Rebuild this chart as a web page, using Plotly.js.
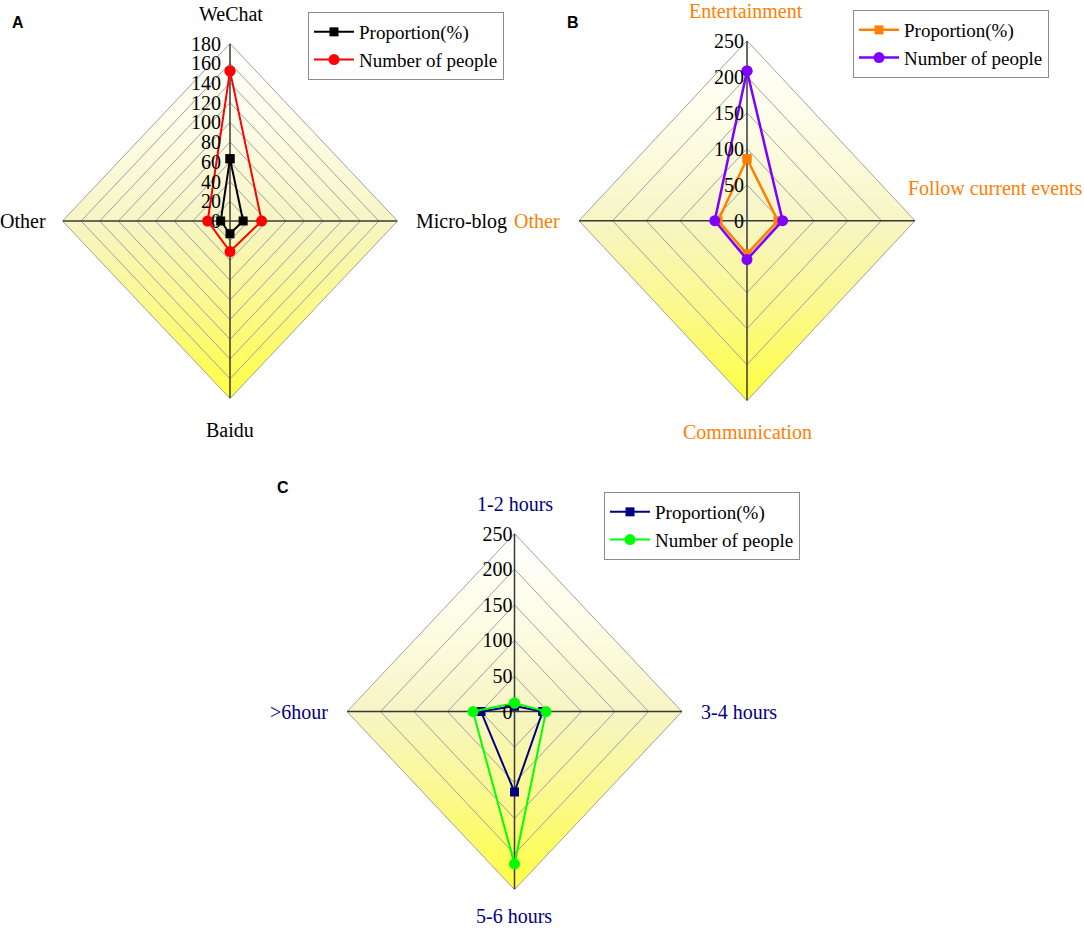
<!DOCTYPE html>
<html>
<head>
<meta charset="utf-8">
<script src="https://cdn.plot.ly/plotly-3.0.1.min.js"></script>
<style>html,body{margin:0;padding:0;background:#fff;}#chart{width:1084px;height:929px;}</style>
</head>
<body>
<div id="chart"></div>
<script>
// ---- data ----
const catsA = ['WeChat', 'Micro-blog', 'Baidu', 'Other'];
const propA = [63.1, 14.1, 12.9, 10.0];
const peopleA = [152, 34, 31, 24];
const ticksA = [0, 20, 40, 60, 80, 100, 120, 140, 160, 180];

const catsB = ['Entertainment', 'Follow current events', 'Communication', 'Other'];
const propB = [86, 46, 46, 43];
const peopleB = [208, 53, 54, 48];
const ticksB = [0, 50, 100, 150, 200, 250];

const catsC = ['1-2 hours', '3-4 hours', '5-6 hours', '>6hour'];
const propC = [8, 42, 113, 50];
const peopleC = [12, 47, 214, 62];
const ticksC = [0, 50, 100, 150, 200, 250];

const seriesNames = ['Proportion(%)', 'Number of people'];

// ---- helpers ----
const W = 1084, H = 929;
const px = x => x / W;
const py = y => 1 - y / H;
// clockwise from top
const ANG = [90, 0, -90, 180].map(a => a * Math.PI / 180);
function toXY(vals) {
  const x = [], y = [];
  vals.concat([vals[0]]).forEach((v, i) => {
    const a = ANG[i % 4];
    x.push(Math.round(v * Math.cos(a) * 1e6) / 1e6);
    y.push(Math.round(v * Math.sin(a) * 1e6) / 1e6);
  });
  return {x, y};
}

const serif = 'Liberation Serif, Times New Roman, serif';
const traces = [];
const annotations = [];
const layout = {
  width: W, height: H,
  margin: {l: 0, r: 0, t: 0, b: 0},
  paper_bgcolor: '#ffffff', plot_bgcolor: 'rgba(0,0,0,0)',
  showlegend: true,
  font: {family: serif, size: 20, color: '#000'},
  annotations: annotations
};

const panels = [
  {key: '', cats: catsA, s1: propA, s2: peopleA, ticks: ticksA, cx: 230, cy: 221, hx: 167.5, hy: 177.5,
   c1: '#000000', c2: '#ff0000', lab: '#000000', letter: 'A', lx: 18, ly: 22, standoff: 9,
   legend: 'legend', legPos: [308, 12], w: 2,
   labPos: [[231, 14, 'center'], [414, 221, 'left'], [230, 430, 'center'], [48, 221, 'right']]},
  {key: '2', cats: catsB, s1: propB, s2: peopleB, ticks: ticksB, cx: 747, cy: 220.7, hx: 168, hy: 180,
   c1: '#ff8000', c2: '#8000ff', lab: '#ff8000', letter: 'B', lx: 573, ly: 22, standoff: 3,
   legend: 'legend2', legPos: [853, 10], w: 2.5,
   labPos: [[746, 11, 'center'], [906, 188, 'left'], [747, 432, 'center'], [562, 221, 'right']]},
  {key: '3', cats: catsC, s1: propC, s2: peopleC, ticks: ticksC, cx: 514.5, cy: 711.6, hx: 167.5, hy: 178,
   c1: '#000080', c2: '#00ff00', lab: '#000080', letter: 'C', lx: 283, ly: 487, standoff: 2,
   legend: 'legend3', legPos: [604, 492], w: 2,
   labPos: [[515, 504, 'center'], [699, 712, 'left'], [514, 916, 'center'], [330, 712, 'right']]}
];

panels.forEach(p => {
  const R = p.ticks[p.ticks.length - 1];
  const xa = 'x' + p.key, ya = 'y' + p.key;
  layout['xaxis' + p.key] = {
    domain: [px(p.cx - p.hx), px(p.cx + p.hx)], range: [-R, R], visible: false, fixedrange: true
  };
  layout['yaxis' + p.key] = {
    domain: [py(p.cy + p.hy), py(p.cy - p.hy)], range: [-R, R],
    anchor: 'free', position: px(p.cx), side: 'left',
    showgrid: false, zeroline: false, showline: false, ticks: '',
    tickmode: 'array', tickvals: p.ticks, ticktext: p.ticks.map(String),
    tickfont: {family: serif, size: 20, color: '#000'}, ticklabelstandoff: p.standoff,
    fixedrange: true
  };
  // background diamond with vertical gradient
  const bg = toXY([R, R, R, R]);
  traces.push({
    type: 'scatter', mode: 'lines', x: bg.x, y: bg.y, xaxis: xa, yaxis: ya,
    fill: 'toself', line: {width: 0, color: 'rgba(0,0,0,0)'},
    fillgradient: {type: 'vertical', start: -R, stop: R,
      colorscale: [[0, '#ffff40'], [0.25, '#fbf98a'], [0.5, '#f7f5c4'], [0.75, '#fdfde6'], [1, '#ffffff']]},
    showlegend: false, hoverinfo: 'skip'
  });
  // grid rings
  const gx = [], gy = [];
  p.ticks.filter(t => t > 0).forEach(t => {
    const d = toXY([t, t, t, t]);
    gx.push(...d.x, null); gy.push(...d.y, null);
  });
  traces.push({
    type: 'scatter', mode: 'lines', x: gx, y: gy, xaxis: xa, yaxis: ya,
    line: {color: '#a0a0a0', width: 1}, showlegend: false, hoverinfo: 'skip'
  });
  // spokes
  traces.push({
    type: 'scatter', mode: 'lines', x: [0, 0, null, -R, R], y: [-R, R, null, 0, 0], xaxis: xa, yaxis: ya,
    line: {color: '#383838', width: 1.5}, showlegend: false, hoverinfo: 'skip'
  });
  // data series
  const d1 = toXY(p.s1), d2 = toXY(p.s2);
  traces.push({
    type: 'scatter', mode: 'lines+markers', name: seriesNames[0], x: d1.x, y: d1.y, xaxis: xa, yaxis: ya,
    line: {color: p.c1, width: p.w}, marker: {symbol: 'square', size: 9, color: p.c1},
    legend: p.legend
  });
  traces.push({
    type: 'scatter', mode: 'lines+markers', name: seriesNames[1], x: d2.x, y: d2.y, xaxis: xa, yaxis: ya,
    line: {color: p.c2, width: p.w}, marker: {symbol: 'circle', size: 11, color: p.c2},
    legend: p.legend
  });
  layout[p.legend] = {
    x: px(p.legPos[0]), y: py(p.legPos[1]), xanchor: 'left', yanchor: 'top',
    bgcolor: '#ffffff', bordercolor: '#8c8c8c', borderwidth: 1,
    font: {family: serif, size: 19, color: '#000'}, tracegroupgap: 0, itemwidth: 40
  };
  // category labels
  p.cats.forEach((c, i) => {
    const lp = p.labPos[i];
    annotations.push({
      xref: 'paper', yref: 'paper', x: px(lp[0]), y: py(lp[1]), xanchor: lp[2], yanchor: 'middle',
      text: c, showarrow: false, font: {family: serif, size: 20, color: p.lab}
    });
  });
  // panel letter
  annotations.push({
    xref: 'paper', yref: 'paper', x: px(p.lx), y: py(p.ly), xanchor: 'center', yanchor: 'middle',
    text: '<b>' + p.letter + '</b>', showarrow: false,
    font: {family: 'Liberation Sans, Arial, sans-serif', size: 16, color: '#000'}
  });
});

Plotly.newPlot('chart', traces, layout, {displayModeBar: false, staticPlot: true});
</script>
</body>
</html>
